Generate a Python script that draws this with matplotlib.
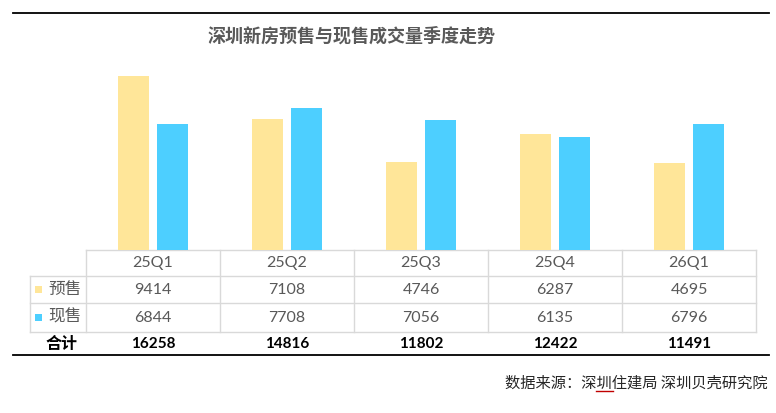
import matplotlib.pyplot as plt
import numpy as np

### Data
quarters = ["25Q1", "25Q2", "25Q3", "25Q4", "26Q1"]
presale = [9414, 7108, 4746, 6287, 4695]
spot = [6844, 7708, 7056, 6135, 6796]
totals = [16258, 14816, 11802, 12422, 11491]
series_names = ["预售", "现售"]
title = "深圳新房预售与现售成交量季度走势"
source = "数据来源：深圳住建局 深圳贝壳研究院"

### Style
c_pre = "#FFE699"
c_spot = "#4DCFFF"
grid_c = "#D9D9D9"
txt_c = "#595959"
cjk = ["Noto Sans CJK SC", "DejaVu Sans"]
num = ["Lato", "Noto Sans CJK SC"]

W, H = 776, 413
fig = plt.figure(figsize=(W / 100, H / 100), dpi=100)

# overlay in pixel coords for the frame and table
ov = fig.add_axes([0, 0, 1, 1])
ov.set_xlim(0, W)
ov.set_ylim(H, 0)
ov.axis("off")

# bar area: columns 86..756 px, baseline at 250 px
col_l, col_w = 86, 134
n = len(quarters)
base_y, top_y = 250, 50
bx = fig.add_axes([col_l / W, 1 - base_y / H, col_w * n / W, (base_y - top_y) / H])
scale = 174 / 9414.0
bx.set_ylim(0, (base_y - top_y) / scale)
bx.set_xlim(-0.5, n - 0.5)
x = np.arange(n)
bw, off = 31 / col_w, 19.5 / col_w
bx.bar(x - off, presale, bw, color=c_pre)
bx.bar(x + off, spot, bw, color=c_spot)
bx.axis("off")

# frame lines
ov.plot([13, 769], [13, 13], color="black", lw=1.3)
ov.plot([13, 769], [355, 355], color="black", lw=1.3)

# title
ov.text(352, 36, title, ha="center", va="center", fontsize=13,
        fontweight="bold", color=txt_c, family=cjk)

# table grid
rows_y = [250, 276, 303, 332]
right = col_l + col_w * n
ov.plot([col_l, right], [rows_y[0]] * 2, color=grid_c, lw=1)
for yy in rows_y[1:]:
    ov.plot([30, right], [yy, yy], color=grid_c, lw=1)
for i in range(n + 1):
    xx = col_l + col_w * i
    ov.plot([xx, xx], [rows_y[0], rows_y[-1]], color=grid_c, lw=1)
ov.plot([30, 30], [rows_y[1], rows_y[-1]], color=grid_c, lw=1)

# table text
centers = [col_l + col_w * (i + 0.5) for i in range(n)]
hy = (rows_y[0] + rows_y[1]) / 2
r1 = (rows_y[1] + rows_y[2]) / 2
r2 = (rows_y[2] + rows_y[3]) / 2
ty = 344
for i in range(n):
    ov.text(centers[i], hy, quarters[i], ha="center", va="center",
            fontsize=11.5, color=txt_c, family=num)
    ov.text(centers[i], r1, str(presale[i]), ha="center", va="center",
            fontsize=11.5, color=txt_c, family=num)
    ov.text(centers[i], r2, str(spot[i]), ha="center", va="center",
            fontsize=11.5, color=txt_c, family=num)
    ov.text(centers[i], ty, str(totals[i]), ha="center", va="center",
            fontsize=11, fontweight="bold", color="black", family=num)

for yy, name, c in [(r1, series_names[0], c_pre), (r2, series_names[1], c_spot)]:
    ov.add_patch(plt.Rectangle((35, yy - 3.5), 7, 7, color=c, lw=0))
    ov.text(48, yy, name, ha="left", va="center", fontsize=12,
            color=txt_c, family=cjk)
ov.text(62, ty, "合计", ha="center", va="center", fontsize=11.5,
        fontweight="bold", color="black", family=cjk)

# source note
ov.text(768, 383, source, ha="right", va="center", fontsize=11,
        color="#262626", family=cjk)
ov.plot([596, 613], [391, 391], color="#C00000", lw=1)

fig.savefig("out.png", dpi=100)
